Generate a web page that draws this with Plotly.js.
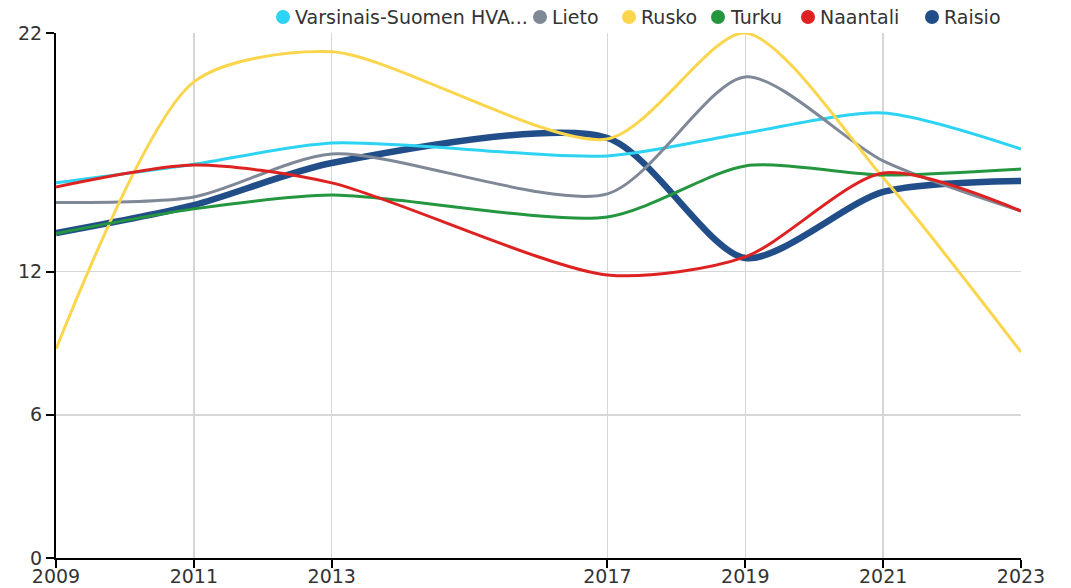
<!DOCTYPE html>
<html>
<head>
<meta charset="utf-8">
<script src="https://cdn.plot.ly/plotly-3.0.1.min.js"></script>
<style>
  html, body { margin: 0; padding: 0; background: #fff; }
  #chart { width: 1071px; height: 588px; }
</style>
</head>
<body>
<div id="chart"></div>
<script>
// Survey years on the x axis
const years = [2009, 2011, 2013, 2017, 2019, 2021, 2023];

// Series values per area
const hvaValues      = [15.72, 16.5, 17.39, 16.85, 17.81, 18.65, 17.14];
const lietoValues    = [14.9, 15.13, 16.93, 15.26, 20.16, 16.64, 14.54];
const ruskoValues    = [8.76, 19.95, 21.21, 17.56, 22.0, 15.93, 8.63];
const turkuValues    = [13.6, 14.63, 15.21, 14.29, 16.43, 16.05, 16.3];
const naantaliValues = [15.55, 16.47, 15.72, 11.86, 12.62, 16.13, 14.54];
const raisioValues   = [13.62, 14.79, 16.55, 17.6, 12.57, 15.34, 15.8];

// Series names as shown in the legend
const seriesNames = ['Varsinais-Suomen HVA...', 'Lieto', 'Rusko', 'Turku', 'Naantali', 'Raisio'];

// Axis ticks
const yTicks = [0, 6, 12, 22];
const xTicks = years;

const colors = ['#2dd3f3', '#7f8896', '#fbd54c', '#23963f', '#de2121', '#214d88'];
const seriesValues = [hvaValues, lietoValues, ruskoValues, turkuValues, naantaliValues, raisioValues];

function lineTrace(i, width) {
  return {
    type: 'scatter',
    mode: 'lines',
    name: seriesNames[i],
    x: years,
    y: seriesValues[i],
    line: { color: colors[i], width: width, shape: 'spline', smoothing: 0.75 },
    showlegend: false,
    hoverinfo: 'x+y+name'
  };
}

// Raisio is emphasised with a thicker line and sits underneath the others
const traces = [lineTrace(5, 6.5)];
for (let i = 0; i < 5; i++) traces.push(lineTrace(i, 3));

// Plot area in pixels
const W = 1071, H = 588;
const mL = 56, mR = 50, mT = 33, mB = 30;
const plotW = W - mL - mR, plotH = H - mT - mB;
const px = v => (v - mL) / plotW;
const py = v => (H - mB - v) / plotH;

// Custom legend row: circle marker followed by label
const legendCenters = [283, 540, 629, 718, 808, 932];
const legendY = 17;
const shapes = [];
const annotations = [];
seriesNames.forEach((name, i) => {
  shapes.push({
    type: 'circle', xref: 'paper', yref: 'paper',
    xsizemode: 'pixel', ysizemode: 'pixel',
    xanchor: px(legendCenters[i]), yanchor: py(legendY),
    x0: -7, x1: 7, y0: -7, y1: 7,
    fillcolor: colors[i], line: { width: 0 }
  });
  annotations.push({
    xref: 'paper', yref: 'paper',
    x: px(legendCenters[i] + 10), y: py(legendY),
    xanchor: 'left', yanchor: 'middle',
    text: name, showarrow: false,
    font: { family: 'DejaVu Sans', size: 19, color: '#333' }
  });
});

const tickFont = { family: 'DejaVu Sans', size: 19, color: '#333' };

const layout = {
  width: W, height: H,
  margin: { l: mL, r: mR, t: mT, b: mB, pad: 0 },
  paper_bgcolor: '#fff', plot_bgcolor: '#fff',
  showlegend: false,
  xaxis: {
    type: 'linear', range: [2009, 2023],
    tickmode: 'array', tickvals: xTicks, ticktext: xTicks.map(String),
    showgrid: true, gridcolor: '#d6d6d6', gridwidth: 1.5,
    showline: true, linecolor: '#000', linewidth: 2,
    ticks: 'outside', ticklen: 8, tickwidth: 2, tickcolor: '#000',
    ticklabelstandoff: -8,
    tickfont: tickFont, zeroline: false, fixedrange: true
  },
  yaxis: {
    range: [0, 22],
    tickmode: 'array', tickvals: yTicks, ticktext: yTicks.map(String),
    showgrid: true, gridcolor: '#d6d6d6', gridwidth: 1.5,
    showline: true, linecolor: '#000', linewidth: 2,
    ticks: 'outside', ticklen: 8, tickwidth: 2, tickcolor: '#000',
    tickfont: tickFont, zeroline: false, fixedrange: true
  },
  shapes: shapes,
  annotations: annotations
};

Plotly.newPlot('chart', traces, layout, { displayModeBar: false, staticPlot: true });
</script>
</body>
</html>
